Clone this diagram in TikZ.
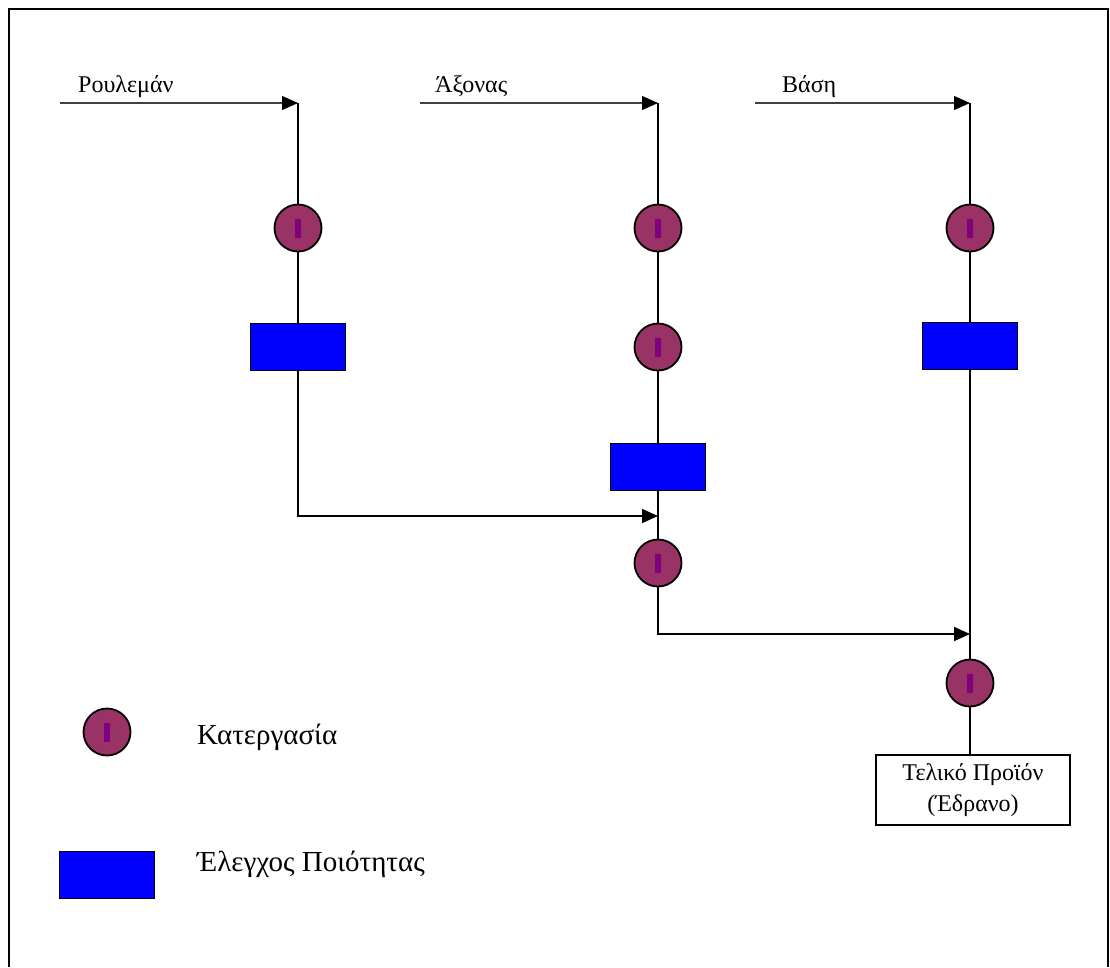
\documentclass[tikz,border=0pt]{standalone}
\usepackage{fontspec}
\setmainfont{Liberation Serif}
\usetikzlibrary{arrows.meta}
\definecolor{procfill}{HTML}{993366}
\definecolor{procbar}{HTML}{800080}
\definecolor{qcfill}{HTML}{0000FF}
\tikzset{
  proc/.style={circle,draw=black,line width=1.8pt,fill=procfill,minimum size=47pt,inner sep=0pt,
    path picture={\fill[procbar] ([xshift=-3pt,yshift=-9.5pt]path picture bounding box.center) rectangle ++(6pt,19pt);}},
  qc/.style={rectangle,draw=black,line width=1.8pt,fill=qcfill,minimum width=95pt,minimum height=47pt,inner sep=0pt},
  flow/.style={line width=1.6pt,draw=black},
  feed/.style={line width=1.2pt,draw=black!75,-{Triangle[length=16pt,width=14pt,fill=black,color=black]}},
  joinarrow/.style={line width=1.6pt,draw=black,-{Triangle[length=16pt,width=14pt]}},
  toplabel/.style={anchor=base west,font=\fontsize{24}{28}\selectfont,inner sep=0pt},
  leglabel/.style={anchor=base west,font=\fontsize{29}{34}\selectfont,inner sep=0pt},
}
\begin{document}
\begin{tikzpicture}[x=1pt,y=-1pt]
\useasboundingbox (0,0) rectangle (1110,967);
% frame
\draw[line width=2.5pt] (9,967) -- (9,9) -- (1108,9) -- (1108,967);

% top labels
\node[toplabel] (l1) at (78,92) {Ρουλεμάν};
\node[toplabel] (l2) at (435,92) {Άξονας};
\node[toplabel] (l3) at (782,92) {Βάση};

% input coordinates
\coordinate (s1) at (60,103);
\coordinate (s2) at (420,103);
\coordinate (s3) at (755,103);
\coordinate (t1) at (298,103);
\coordinate (t2) at (658,103);
\coordinate (t3) at (970,103);

% column 1
\node[proc] (p11) at (298,228) {};
\node[qc] (q1) at (298,347) {};
\coordinate (b1) at (298,516);
% column 2
\node[proc] (p21) at (658,228) {};
\node[proc] (p22) at (658,347) {};
\node[qc] (q2) at (658,467) {};
\coordinate (m2) at (658,516);
\node[proc] (p23) at (658,563) {};
\coordinate (b2) at (658,634);
% column 3
\node[proc] (p31) at (970,228) {};
\node[qc] (q3) at (970,346) {};
\coordinate (m3) at (970,634);
\node[proc] (p32) at (970,683) {};
\node[draw=black,line width=1.2pt,minimum width=194pt,minimum height=70pt,align=center,
      font=\fontsize{24}{31}\selectfont,inner sep=0pt] (fin) at (973,790) {Τελικό Προϊόν\\(Έδρανο)};

% feeds
\draw[feed] (s1) -- (t1);
\draw[feed] (s2) -- (t2);
\draw[feed] (s3) -- (t3);

% column 1 flow
\draw[flow] (t1) -- (p11);
\draw[flow] (p11) -- (q1);
\draw[joinarrow] (q1) -- (b1) -- (m2);
% column 2 flow
\draw[flow] (t2) -- (p21);
\draw[flow] (p21) -- (p22);
\draw[flow] (p22) -- (q2);
\draw[flow] (q2) -- (m2) -- (p23);
\draw[joinarrow] (p23) -- (b2) -- (m3);
% column 3 flow
\draw[flow] (t3) -- (p31);
\draw[flow] (p31) -- (q3);
\draw[flow] (q3) -- (m3) -- (p32);
\draw[flow] (p32) -- (p32 |- fin.north);

% legend
\node[proc] (lp) at (107,732) {};
\node[leglabel] (lpt) at (197,744) {Κατεργασία};
\node[qc] (lq) at (107,875) {};
\node[leglabel] (lqt) at (197,871) {Έλεγχος Ποιότητας};
\end{tikzpicture}
\end{document}
